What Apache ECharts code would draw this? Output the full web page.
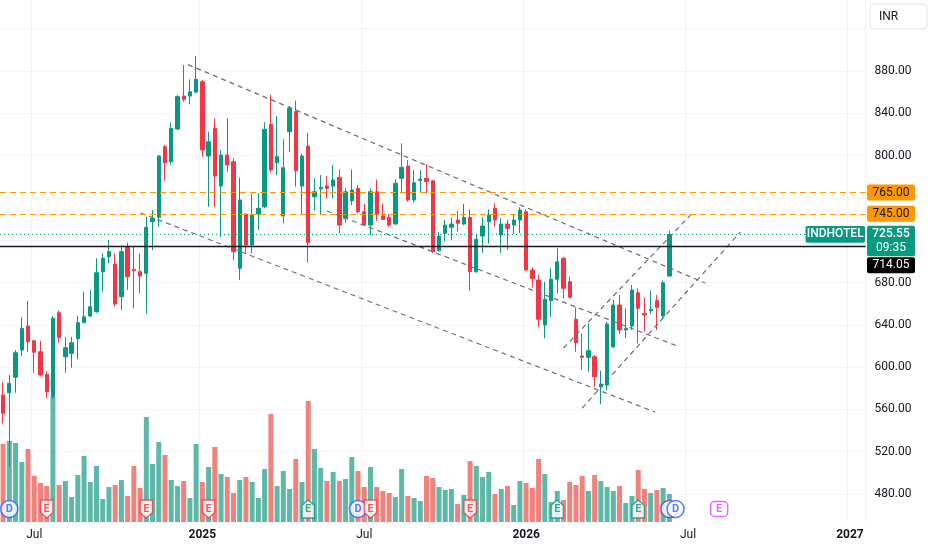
<!DOCTYPE html>
<html>
<head>
<meta charset="utf-8">
<title>INDHOTEL</title>
<script src="https://cdn.jsdelivr.net/npm/echarts/dist/echarts.min.js"></script>
<style>html,body{margin:0;padding:0;background:#fff;}</style>
</head>
<body>
<div id="main" style="width:932px;height:550px;"></div>
<script>
// weekly candles, first bar = week of 2024-05-27
var firstWeek = Date.UTC(2024, 4, 27);
var weekCount = 139;   // axis runs a little past Jan 2027

var opens = [573.6,575.8,590.3,616.1,638.8,624.9,614.5,593.2,572.0,651.4,
    609.8,613.0,626.8,642.0,648.3,652.4,690.2,704.4,697.5,666.5,
    713.3,692.4,690.2,688.7,737.5,741.6,808.4,794.2,825.1,856.3,
    856.3,860.1,869.8,799.6,825.8,771.2,800.5,794.2,693.4,744.5,
    715.4,744.7,751.6,829.6,793.3,742.9,822.6,841.5,771.2,809.0,
    761.1,768.5,771.2,771.2,779.4,740.7,757.3,769.0,746.9,734.3,
    765.8,742.9,741.6,735.3,778.5,790.1,758.0,776.5,778.5,776.2,
    710.0,726.5,732.2,739.1,735.3,741.6,690.2,723.9,737.5,750.1,
    724.9,735.3,734.3,739.1,746.9,691.8,682.3,639.8,662.8,683.0,
    702.9,680.7,645.2,610.5,609.2,609.8,581.4,583.0,619.3,658.7,
    635.1,638.8,670.3,650.8,653.3,662.8,648.3,686.1];

var closes = [556.3,584.6,613.6,636.7,624.0,614.0,592.5,576.7,646.1,628.1,
    618.3,623.0,642.0,647.6,657.1,689.2,702.9,709.1,659.6,709.1,
    685.5,691.1,686.1,732.2,740.7,799.6,793.3,825.8,855.7,853.2,
    860.4,872.1,805.3,813.1,780.7,800.5,791.1,709.1,758.0,715.4,
    743.8,750.1,824.8,786.3,799.0,788.5,844.7,785.7,799.6,717.6,
    765.8,770.0,769.0,776.9,734.3,765.8,767.4,746.9,734.3,765.8,
    744.7,739.7,734.3,773.8,788.9,758.0,774.3,777.8,775.3,709.1,
    723.9,734.3,735.3,736.0,741.6,690.2,720.8,733.4,743.8,739.1,
    735.3,731.2,739.1,748.5,691.8,683.9,645.2,664.1,683.0,699.6,
    674.5,666.0,623.0,609.2,615.5,590.9,584.0,640.7,658.7,635.1,
    636.7,672.9,655.6,649.2,654.6,656.5,679.8,725.55];

var lows = [546.9,505.8,575.8,610.5,614.5,594.7,590.9,570.5,570.0,623.0,
    594.7,599.4,607.3,641.4,647.1,651.4,671.3,698.1,657.1,654.0,
    672.9,655.6,669.8,650.8,710.7,732.7,776.2,791.1,824.2,850.9,
    848.5,858.9,798.9,751.6,751.6,723.3,784.7,701.2,682.3,707.6,
    707.6,729.6,750.1,783.8,781.6,736.0,803.7,770.6,743.8,698.7,
    747.9,744.7,759.6,759.6,726.5,736.5,753.3,745.4,733.4,724.9,
    738.4,739.1,732.7,735.0,765.8,756.4,755.4,765.8,764.3,708.1,
    709.1,718.5,720.2,728.0,734.3,672.2,689.2,708.1,717.0,732.7,
    708.1,710.7,725.8,726.5,691.1,675.4,637.6,627.2,647.6,669.8,
    665.0,665.0,614.5,597.2,595.6,581.4,565.1,578.3,617.8,631.3,
    627.2,635.1,622.5,633.4,650.2,635.1,646.1,685.5];

var highs = [586.2,592.5,616.1,647.1,662.5,625.6,624.9,596.3,648.3,653.3,
    628.2,628.7,648.3,671.3,672.9,702.9,707.6,720.2,707.6,715.4,
    717.6,713.8,707.6,742.2,748.5,800.5,810.0,831.1,857.3,885.6,
    872.1,894.1,871.5,822.6,835.2,805.3,835.2,797.4,779.4,745.4,
    763.7,764.3,831.5,857.3,837.4,815.4,846.9,851.9,802.1,821.6,
    778.5,781.6,780.7,791.1,787.0,769.0,787.0,772.2,754.2,769.0,
    777.5,754.9,744.7,777.5,811.6,795.8,786.3,786.3,792.0,777.0,
    728.0,739.1,741.6,747.9,754.2,749.2,724.9,741.6,749.2,754.9,
    740.7,739.1,743.8,751.1,749.2,694.3,687.1,680.7,693.4,712.3,
    703.8,685.5,656.5,631.9,641.4,611.4,596.6,642.9,663.4,668.2,
    655.6,677.6,674.5,666.0,672.2,668.2,681.7,729.0];

// volume, millions of shares
var volumes = [7.8,8.1,7.9,6.0,7.3,4.6,3.9,3.6,12.5,3.7,
    4.1,2.5,4.7,6.6,4.0,5.6,2.3,3.5,3.7,4.2,
    2.6,5.6,3.4,10.5,5.8,8.0,6.7,4.2,3.6,4.1,
    2.4,7.8,4.0,5.5,7.5,4.8,4.5,2.9,4.2,4.5,
    4.0,2.4,5.3,10.8,3.6,5.1,3.3,6.3,4.0,12.1,
    7.3,5.4,4.1,5.0,4.1,4.3,6.5,5.1,3.5,5.5,
    3.5,3.1,2.9,2.5,5.3,2.6,2.4,2.1,4.6,4.4,
    3.5,3.2,3.3,1.8,2.7,6.1,5.6,4.5,5.0,2.8,
    3.3,3.6,1.7,4.1,3.9,3.4,6.3,4.8,2.0,3.1,
    2.2,4.0,3.7,4.6,3.1,4.7,4.1,3.5,3.1,3.6,
    1.9,2.6,5.2,3.3,2.9,3.2,3.4,2.8];

// price levels drawn on the chart
var resistLevels = [765, 745];
var lastPrice = 725.55;
var prevClose = 714.05;
var priceTicks = [480, 520, 560, 600, 640, 680, 800, 840, 880];

// drawn trend lines: [weekIndex, price] pairs
var trendLines = [
    [[29.7, 886.0], [112.75, 679.5]],
    [[22.1, 745.7], [104.7, 557.5]],
    [[52.0, 747.6], [108.3, 619.9]],
    [[90.0, 618.0], [110.4, 743.8]],
    [[93.0, 561.3], [118.4, 727.7]]
];

// dividend / earnings badges along the bottom
var eventWeeks = [1, 7, 23, 33, 49, 57, 59, 75, 89, 102, 107, 108, 115];
var eventKinds = ['D', 'Er', 'Er', 'Er', 'Eg', 'D', 'Er', 'Er', 'Eg', 'Eg', 'Dp', 'D', 'Ef'];

var UP = '#089981', DOWN = '#f23645';
var FONT = 'Roboto, "Noto Sans", sans-serif';

var weeks = [];
for (var i = 0; i < weekCount; i++) {
    weeks.push(new Date(firstWeek + i * 7 * 864e5).toISOString().slice(0, 10));
}

function isHalfYear(index, value) {
    var m = +value.slice(5, 7), d = +value.slice(8, 10);
    return (m === 1 || m === 7) && d <= 7;
}

var candles = [], vols = [];
for (var i = 0; i < opens.length; i++) {
    candles.push([opens[i], closes[i], lows[i], highs[i]]);
    vols.push({
        value: volumes[i],
        itemStyle: { color: closes[i] >= opens[i] ? '#5cb8a7' : '#f0827d' }
    });
}

function eventItem(idx, kind) {
    var item = { value: [weeks[idx], 1.3], label: { show: true, position: 'inside', fontFamily: FONT, fontSize: 11, fontWeight: 'bold' } };
    if (kind === 'D' || kind === 'Dp') {
        var c = kind === 'D' ? '#2962ff' : '#9c27b0';
        item.symbol = 'circle';
        item.symbolSize = 17;
        item.itemStyle = { color: '#fff', borderColor: c, borderWidth: 1.6 };
        item.label.formatter = kind === 'D' ? 'D' : '';
        item.label.color = c;
    } else if (kind === 'Ef') {
        item.symbol = 'roundRect';
        item.symbolSize = [17, 15];
        item.itemStyle = { color: '#fff', borderColor: '#e040fb', borderWidth: 1.4 };
        item.label.formatter = 'E';
        item.label.color = '#e040fb';
    } else {
        var col = kind === 'Er' ? DOWN : UP;
        item.symbol = kind === 'Er'
            ? 'path://M0,0 L14,0 L14,12 L7,17 L0,12 Z'
            : 'path://M7,0 L14,5 L14,17 L0,17 L0,5 Z';
        item.symbolSize = [15, 18];
        item.symbolKeepAspect = true;
        item.itemStyle = { color: '#fff', borderColor: col, borderWidth: 1.4 };
        item.label.formatter = 'E';
        item.label.color = col;
    }
    return item;
}

var events = [];
for (var i = 0; i < eventWeeks.length; i++) events.push(eventItem(eventWeeks[i], eventKinds[i]));

var levelLines = [];
for (var i = 0; i < resistLevels.length; i++) {
    levelLines.push({ yAxis: resistLevels[i], lineStyle: { color: '#ff9800', type: [6, 4], width: 1.2 } });
}
levelLines.push({ yAxis: lastPrice, lineStyle: { color: UP, type: [1, 3], width: 1 } });
levelLines.push({ yAxis: prevClose, lineStyle: { color: '#131722', type: 'solid', width: 1.3 } });

var series = [
    {
        type: 'bar', xAxisIndex: 1, yAxisIndex: 1, data: vols, barWidth: 5,
        silent: true, z: 1
    },
    {
        type: 'candlestick', xAxisIndex: 0, yAxisIndex: 0, data: candles, barWidth: 3.8, z: 3,
        itemStyle: { color: UP, color0: DOWN, borderColor: UP, borderColor0: DOWN, borderWidth: 1 },
        markLine: { symbol: ['none', 'none'], silent: true, label: { show: false }, data: levelLines },
        silent: true
    },
    {
        type: 'scatter', xAxisIndex: 1, yAxisIndex: 1, data: events, z: 5, silent: true
    }
];
trendLines.forEach(function (t) {
    series.push({
        type: 'line', xAxisIndex: 2, yAxisIndex: 0, data: t, symbol: 'none', silent: true, z: 4,
        lineStyle: { color: '#6a6d78', type: [5, 4], width: 1.2 }
    });
});

var splitColors = ['rgba(0,0,0,0)'];
for (var i = 0; i < 12; i++) splitColors.push('#f0f3fa');

var chart = echarts.init(document.getElementById('main'));
chart.setOption({
    animation: false,
    backgroundColor: '#fff',
    grid: [
        { left: -1, right: 66.5, top: 28.7, bottom: 13.7 },
        { left: -1, right: 66.5, top: 0, bottom: 28 }
    ],
    xAxis: [
        { type: 'category', gridIndex: 0, data: weeks, show: false },
        {
            type: 'category', gridIndex: 1, data: weeks,
            axisLine: { show: false }, axisTick: { show: false },
            axisLabel: {
                interval: isHalfYear, margin: 7, color: '#131722', fontSize: 12, fontFamily: FONT,
                formatter: function (v) {
                    return v.slice(5, 7) === '01' ? '{y|' + v.slice(0, 4) + '}' : 'Jul';
                },
                rich: { y: { fontWeight: 'bold', fontSize: 12, fontFamily: FONT, color: '#131722' } }
            },
            splitLine: { show: true, interval: isHalfYear, lineStyle: { color: '#f0f3fa', width: 1 } }
        },
        { type: 'value', gridIndex: 0, min: -0.5, max: weekCount - 0.5, show: false }
    ],
    yAxis: [
        {
            type: 'value', gridIndex: 0, position: 'right', min: 440, max: 920, interval: 40,
            axisLine: { show: false }, axisTick: { show: false },
            axisLabel: {
                margin: 9, color: '#131722', fontSize: 12, fontFamily: FONT,
                formatter: function (v) { return priceTicks.indexOf(v) >= 0 ? v.toFixed(2) : ''; }
            },
            splitLine: { lineStyle: { color: splitColors, width: 1 } }
        },
        { type: 'value', gridIndex: 1, min: 0, max: 52.2, show: false, splitLine: { show: false } }
    ],
    series: series
});

// price tags on the right scale
function yPix(v) { return chart.convertToPixel({ yAxisIndex: 0 }, v); }
function box(x, y, w, h, fill) {
    return { type: 'rect', shape: { x: x, y: y, width: w, height: h, r: 2 }, style: { fill: fill }, z: 100 };
}
function txt(x, y, s, color, weight) {
    return {
        type: 'text', x: x, y: y, z: 101,
        style: { text: s, fill: color, font: (weight || 'normal') + ' 12px ' + FONT, align: 'center', verticalAlign: 'middle' }
    };
}

var g = [];
resistLevels.forEach(function (lv) {
    var y = yPix(lv);
    g.push(box(867, y - 8, 48, 16, '#ff9800'));
    g.push(txt(891, y, lv.toFixed(2), '#131722'));
});
var yc = yPix(lastPrice);
g.push(box(867, yc - 8.6, 48, 30.6, UP));
g.push(txt(891, yc, lastPrice.toFixed(2), '#fff', '500'));
g.push(txt(891, yc + 13.6, '09:35', '#fff'));
g.push(box(805.5, yc - 8.3, 59.5, 16.6, UP));
g.push(txt(835.2, yc, 'INDHOTEL', '#fff', '500'));
var yp = yPix(prevClose);
g.push(box(867, yp + 10.8, 48, 16, '#000'));
g.push(txt(891, yp + 18.8, prevClose.toFixed(2), '#fff'));
g.push({ type: 'rect', shape: { x: 870, y: 4, width: 57, height: 25, r: 4 }, style: { fill: '#fff', stroke: '#e0e3eb', lineWidth: 1 }, z: 100 });
g.push({ type: 'text', x: 879, y: 17, z: 101, style: { text: 'INR', fill: '#131722', font: '12px ' + FONT, verticalAlign: 'middle' } });

chart.setOption({ graphic: g });
</script>
</body>
</html>
